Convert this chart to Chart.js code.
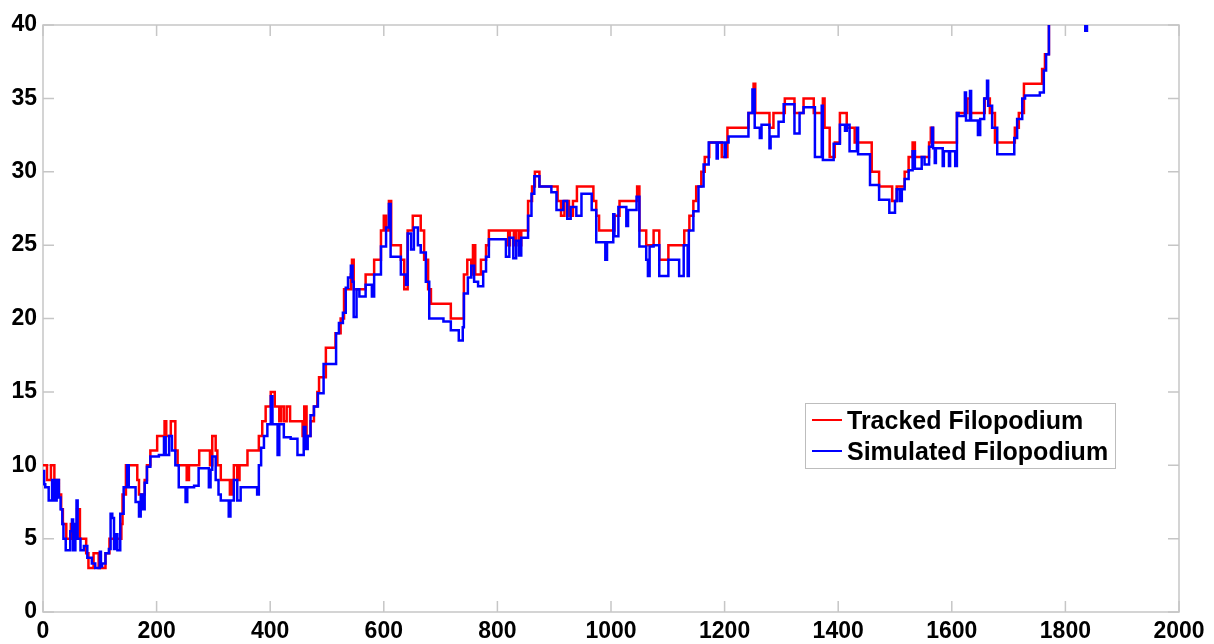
<!DOCTYPE html>
<html lang="en">
<head>
    <meta charset="UTF-8">
    <title>Tracked vs Simulated Filopodium</title>
    <style>
        body {
            margin: 0;
            padding: 0;
            background-color: #ffffff;
        }

        #chartBox {
            width: 1214px;
            height: 644px;
        }
    </style>
</head>
<body>
    <div id="chartBox">
        <canvas id="filoChart" width="1214" height="644"></canvas>
    </div>

    <script src="https://cdn.jsdelivr.net/npm/chart.js"></script>
    <script>
        // Dados (tempo x comprimento)
        var trackedX = [0, 7, 14, 20, 28, 32, 35, 41, 49, 53, 60, 65, 76, 80, 89, 98, 110, 117, 138, 140,
            146, 166, 169, 179, 183, 189, 201, 214, 217, 225, 233, 237, 253, 257, 275, 294, 298, 304, 307, 313,
            329, 333, 336, 342, 346, 360, 380, 386, 392, 401, 408, 416, 419, 424, 429, 435, 457, 460, 464, 471,
            477, 483, 486, 498, 515, 524, 530, 542, 544, 547, 568, 583, 595, 600, 604, 609, 613, 630, 636, 642,
            651, 665, 671, 678, 683, 718, 741, 747, 754, 757, 761, 771, 780, 785, 819, 822, 829, 833, 838, 842,
            854, 861, 866, 874, 906, 912, 918, 926, 933, 940, 969, 974, 979, 1006, 1015, 1046, 1050, 1062, 1075, 1085,
            1101, 1129, 1138, 1145, 1150, 1159, 1165, 1173, 1195, 1205, 1242, 1251, 1254, 1279, 1286, 1306, 1323, 1339, 1357, 1373,
            1376, 1385, 1394, 1403, 1415, 1429, 1459, 1472, 1495, 1503, 1517, 1524, 1531, 1535, 1560, 1563, 1567, 1609, 1627, 1632,
            1658, 1667, 1676, 1711, 1718, 1727, 1759, 1764, 1771, 1800];
        var trackedY = [10, 9, 10, 9, 8, 7, 6, 5, 6, 5, 7, 5, 4, 3, 4, 3, 4, 5, 6, 8,
            10, 9, 8, 9, 10, 11, 12, 13, 12, 13, 11, 10, 9, 10, 11, 10, 12, 11, 10, 9,
            8, 9, 10, 9, 10, 11, 12, 13, 14, 15, 14, 13, 14, 13, 14, 13, 12, 14, 12, 13,
            14, 15, 16, 18, 19, 20, 22, 23, 24, 22, 23, 24, 26, 27, 26, 28, 25, 24, 22, 26,
            27, 26, 24, 22, 21, 20, 23, 24, 23, 25, 23, 24, 25, 26, 25, 26, 25, 26, 25, 26,
            28, 29, 30, 29, 28, 27, 28, 27, 28, 29, 28, 27, 26, 27, 28, 29, 26, 25, 26, 24,
            25, 26, 27, 28, 29, 30, 31, 32, 31, 33, 34, 36, 34, 33, 34, 35, 34, 35, 34, 35,
            33, 31, 32, 34, 33, 32, 30, 29, 28, 29, 30, 31, 32, 31, 32, 33, 32, 34, 35, 34,
            35, 34, 32, 33, 34, 36, 37, 38, 42, 44];

        var simulatedX = [0, 2, 4, 10, 16, 20, 24, 28, 31, 34, 36, 40, 48, 51, 53, 57, 59, 61, 66, 72,
            78, 86, 92, 100, 102, 104, 110, 116, 119, 122, 125, 128, 131, 136, 142, 148, 151, 163, 169, 172,
            176, 179, 183, 189, 204, 213, 216, 222, 227, 233, 239, 251, 254, 266, 274, 292, 295, 298, 304, 309,
            313, 327, 330, 336, 342, 348, 377, 380, 384, 389, 395, 401, 404, 413, 416, 424, 436, 448, 459, 462,
            466, 471, 477, 484, 494, 516, 521, 528, 533, 537, 542, 545, 547, 552, 557, 568, 579, 583, 595, 604,
            609, 612, 630, 639, 642, 648, 653, 660, 665, 674, 680, 705, 718, 732, 739, 741, 748, 754, 759, 766,
            775, 780, 785, 815, 821, 828, 833, 838, 842, 854, 860, 865, 874, 895, 904, 916, 923, 929, 939, 948,
            966, 974, 990, 993, 1004, 1006, 1013, 1027, 1030, 1045, 1050, 1062, 1065, 1068, 1075, 1085, 1101, 1120, 1128, 1135,
            1137, 1145, 1154, 1163, 1172, 1186, 1188, 1200, 1202, 1207, 1242, 1249, 1253, 1262, 1265, 1279, 1281, 1295, 1304, 1323,
            1332, 1339, 1359, 1371, 1373, 1392, 1403, 1412, 1415, 1420, 1433, 1435, 1456, 1472, 1490, 1500, 1503, 1508, 1512, 1517,
            1524, 1531, 1535, 1547, 1552, 1560, 1565, 1567, 1570, 1572, 1584, 1586, 1595, 1597, 1606, 1609, 1612, 1623, 1625, 1632,
            1634, 1646, 1650, 1657, 1662, 1664, 1671, 1680, 1710, 1715, 1724, 1729, 1755, 1762, 1766, 1771, 1833, 1835, 1838, 1850];
        var simulatedY = [9.6, 8.7, 8.5, 7.6, 9.0, 7.6, 9.0, 7.8, 7.0, 6.0, 5.0, 4.2, 5.5, 6.3, 4.2, 6.0, 7.6, 5.0, 4.2, 4.5,
            3.7, 3.3, 3.0, 4.1, 3.1, 3.3, 4.0, 4.3, 6.7, 6.4, 4.3, 5.3, 4.2, 6.7, 8.5, 10.0, 8.5, 7.5, 6.5, 8.0,
            7.0, 8.8, 9.9, 10.6, 10.7, 11.9, 10.7, 12.0, 11.0, 10.0, 8.5, 7.5, 8.5, 8.6, 9.8, 8.5, 9.7, 10.6, 9.0, 8.0,
            7.6, 6.5, 7.6, 9.0, 7.6, 8.5, 8.0, 10.0, 11.2, 12.0, 12.8, 14.7, 12.8, 10.7, 12.8, 11.9, 11.8, 10.7, 12.6, 11.1,
            12.0, 13.4, 14.0, 14.9, 16.9, 19.0, 19.7, 20.4, 22.1, 22.8, 23.6, 22.5, 20.1, 22.0, 21.5, 22.3, 21.5, 23.0, 24.9, 26.2,
            27.8, 24.2, 23.0, 22.3, 25.8, 24.7, 26.2, 25.0, 24.5, 22.5, 20.0, 19.8, 19.2, 18.5, 19.4, 21.7, 22.8, 23.6, 22.5, 22.2,
            23.2, 24.2, 25.4, 24.2, 25.5, 24.1, 25.3, 24.3, 25.5, 27.0, 28.5, 29.7, 29.0, 28.6, 27.4, 28.0, 26.8, 27.6, 27.0, 28.5,
            27.4, 25.2, 24.0, 25.2, 27.1, 25.6, 27.6, 26.3, 27.4, 28.3, 24.9, 24.0, 22.9, 24.9, 25.0, 22.9, 24.0, 22.9, 25.0, 22.9,
            26.0, 27.3, 29.0, 30.5, 32.0, 30.9, 32.0, 31.0, 32.0, 32.4, 34.0, 35.6, 33.0, 32.3, 33.2, 31.6, 32.4, 33.4, 34.6, 32.6,
            34.0, 34.4, 31.0, 34.5, 30.8, 31.9, 33.2, 32.8, 33.2, 31.4, 33.0, 31.2, 29.1, 28.1, 27.2, 28.0, 28.8, 28.0, 28.8, 29.5,
            30.1, 31.4, 30.2, 31.0, 30.5, 31.7, 33.0, 31.6, 30.6, 31.6, 30.4, 31.4, 30.4, 31.4, 30.4, 34.0, 33.8, 35.4, 33.5, 35.5,
            33.5, 32.5, 33.6, 35.0, 36.2, 34.5, 33.0, 31.2, 32.3, 33.6, 35.0, 35.2, 35.4, 36.9, 38.0, 41.0, 41.5, 39.6, 41.5, 43.0];

        var xTicks = [0, 200, 400, 600, 800, 1000, 1200, 1400, 1600, 1800, 2000];
        var yTicks = [0, 5, 10, 15, 20, 25, 30, 35, 40];

        function toPoints(xs, ys) {
            var pts = [];
            for (var i = 0; i < xs.length; i++) {
                pts.push({ x: xs[i], y: ys[i] });
            }
            return pts;
        }

        var tickFont = { family: '"Liberation Sans", Arial, sans-serif', size: 23, weight: 'bold' };

        // caixa cinza com marcas para dentro
        var boxPlugin = {
            id: 'boxTicks',
            beforeDatasetsDraw: function(chart) {
                var ctx = chart.ctx;
                var a = chart.chartArea;
                var xs = chart.scales.x;
                var ys = chart.scales.y;
                var len = 11;
                ctx.save();
                ctx.strokeStyle = '#c6c6c6';
                ctx.lineWidth = 1.5;
                ctx.strokeRect(a.left, a.top, a.right - a.left, a.bottom - a.top);
                ctx.beginPath();
                xs.ticks.forEach(function(t) {
                    var px = xs.getPixelForValue(t.value);
                    ctx.moveTo(px, a.bottom);
                    ctx.lineTo(px, a.bottom - len);
                    ctx.moveTo(px, a.top);
                    ctx.lineTo(px, a.top + len);
                });
                ys.ticks.forEach(function(t) {
                    var py = ys.getPixelForValue(t.value);
                    ctx.moveTo(a.left, py);
                    ctx.lineTo(a.left + len, py);
                    ctx.moveTo(a.right, py);
                    ctx.lineTo(a.right - len, py);
                });
                ctx.stroke();
                ctx.restore();
            }
        };

        // legenda dentro do grafico, com moldura
        var legendPlugin = {
            id: 'boxLegend',
            afterDatasetsDraw: function(chart) {
                var ctx = chart.ctx;
                var a = chart.chartArea;
                var left = a.right - 374;
                var top = a.top + 378;
                var w = 310, h = 65;
                ctx.save();
                ctx.fillStyle = '#ffffff';
                ctx.fillRect(left, top, w, h);
                ctx.strokeStyle = '#bdbdbd';
                ctx.lineWidth = 1;
                ctx.strokeRect(left + 0.5, top + 0.5, w, h);
                ctx.font = 'bold 25px "Liberation Sans", Arial, sans-serif';
                ctx.textBaseline = 'alphabetic';
                ctx.fillStyle = '#000000';
                chart.data.datasets.forEach(function(ds, i) {
                    var cy = top + 17 + i * 31;
                    ctx.strokeStyle = ds.borderColor;
                    ctx.lineWidth = 2;
                    ctx.beginPath();
                    ctx.moveTo(left + 7, cy);
                    ctx.lineTo(left + 37, cy);
                    ctx.stroke();
                    ctx.fillText(ds.label, left + 42, cy + 9);
                });
                ctx.restore();
            }
        };

        var config = {
            type: 'line',
            data: {
                datasets: [{
                    label: 'Tracked Filopodium',
                    data: toPoints(trackedX, trackedY),
                    borderColor: '#ff0000',
                    borderWidth: 2.5,
                    stepped: true,
                    pointRadius: 0,
                    fill: false,
                    order: 2
                }, {
                    label: 'Simulated Filopodium',
                    data: toPoints(simulatedX, simulatedY),
                    borderColor: '#0000ff',
                    borderWidth: 2.5,
                    stepped: true,
                    pointRadius: 0,
                    fill: false,
                    order: 1
                }]
            },
            options: {
                responsive: false,
                animation: false,
                layout: { padding: { top: 25, right: 35, left: 0, bottom: 0 } },
                plugins: {
                    legend: { display: false },
                    tooltip: { enabled: false }
                },
                scales: {
                    x: {
                        type: 'linear',
                        min: 0,
                        max: 2000,
                        afterBuildTicks: function(scale) {
                            scale.ticks = xTicks.map(function(v) { return { value: v }; });
                        },
                        afterFit: function(scale) { scale.height = 32; },
                        grid: { display: false, drawTicks: false },
                        border: { display: false },
                        ticks: {
                            autoSkip: false, maxRotation: 0, padding: 6, color: '#000000', font: tickFont,
                            callback: function(v) { return String(v); }
                        }
                    },
                    y: {
                        type: 'linear',
                        min: 0,
                        max: 40,
                        afterBuildTicks: function(scale) {
                            scale.ticks = yTicks.map(function(v) { return { value: v }; });
                        },
                        afterFit: function(scale) { scale.width = 43; },
                        grid: { display: false, drawTicks: false },
                        border: { display: false },
                        ticks: {
                            padding: 6, color: '#000000', font: tickFont,
                            callback: function(v) { return String(v); }
                        }
                    }
                }
            },
            plugins: [boxPlugin, legendPlugin]
        };

        var ctx = document.getElementById('filoChart').getContext('2d');
        new Chart(ctx, config);
    </script>
</body>
</html>
